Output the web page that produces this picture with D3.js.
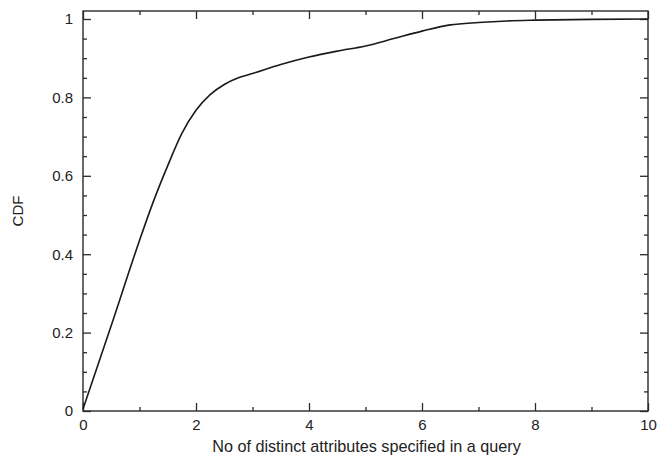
<!DOCTYPE html>
<html>
<head>
<meta charset="utf-8">
<script src="https://cdn.jsdelivr.net/npm/d3@7"></script>
<style>
  html, body { margin: 0; padding: 0; background: #fff; }
  svg { display: block; }
  text { font-family: "Liberation Sans", Arial, Helvetica, sans-serif; fill: #222; }
</style>
</head>
<body>
<div id="chart"></div>
<script>
// Number of distinct attributes in a query, and the cumulative fraction of queries
const attrCounts = [0, 0.5, 1.0, 1.25, 1.5, 1.75, 2.0, 2.25, 2.5, 2.75, 3.0, 3.5, 4.0, 4.5, 5.0, 5.5, 6.0, 6.5, 7.0, 7.5, 8.0, 9.0, 10.0];
const cdfValues  = [0.005, 0.218, 0.435, 0.536, 0.626, 0.708, 0.767, 0.807, 0.833, 0.850, 0.861, 0.884, 0.903, 0.918, 0.931, 0.950, 0.969, 0.985, 0.991, 0.995, 0.997, 0.999, 1.0];

const xMajorTicks = [0, 2, 4, 6, 8, 10];
const xMinorTicks = [1, 3, 5, 7, 9];
const yMajorTicks = [0, 0.2, 0.4, 0.6, 0.8, 1];
const yMinorTicks = [0.05, 0.1, 0.15, 0.25, 0.3, 0.35, 0.45, 0.5, 0.55, 0.65, 0.7, 0.75, 0.85, 0.9, 0.95];
const yTickLabels = ["0", "0.2", "0.4", "0.6", "0.8", "1"];

const xLabel = "No of distinct attributes specified in a query";
const yLabel = "CDF";

const W = 659, H = 459;
const plotL = 83, plotR = 648, plotT = 11, plotB = 411;

const svg = d3.select("#chart").append("svg").attr("width", W).attr("height", H);

const x = d3.scaleLinear().domain([0, 10]).range([plotL, plotR]);
const y = d3.scaleLinear().domain([0, 1.0204]).range([plotB, plotT]);

const ink = "#2a2a2a";
const major = 8, minor = 4;

// Axes with inward ticks on all four sides
function addAxis(axisFn, scale, ticks, size, transform, labels) {
  const g = svg.append("g")
    .attr("transform", transform)
    .call(axisFn(scale).tickValues(ticks).tickSize(size).tickSizeOuter(0)
      .tickFormat(labels ? (d, i) => labels[i] : () => ""));
  g.select(".domain").remove();
  g.selectAll(".tick line").attr("stroke", ink).attr("stroke-width", 1.3);
  g.selectAll(".tick text").attr("font-size", "15px").attr("fill", ink);
  return g;
}

// bottom
const gxb = addAxis(d3.axisBottom, x, xMajorTicks, -major, `translate(0,${plotB})`, xMajorTicks.map(String));
gxb.selectAll(".tick text").attr("y", 8).attr("dy", "0.71em");
addAxis(d3.axisBottom, x, xMinorTicks, -minor, `translate(0,${plotB})`, null);
// top
addAxis(d3.axisTop, x, xMajorTicks, -major, `translate(0,${plotT})`, null);
addAxis(d3.axisTop, x, xMinorTicks, -minor, `translate(0,${plotT})`, null);
// left
const gyl = addAxis(d3.axisLeft, y, yMajorTicks, -major, `translate(${plotL},0)`, yTickLabels);
gyl.selectAll(".tick text").attr("x", -10);
addAxis(d3.axisLeft, y, yMinorTicks, -minor, `translate(${plotL},0)`, null);
// right
addAxis(d3.axisRight, y, yMajorTicks, -major, `translate(${plotR},0)`, null);
addAxis(d3.axisRight, y, yMinorTicks, -minor, `translate(${plotR},0)`, null);

// plot frame
svg.append("rect")
  .attr("x", plotL).attr("y", plotT)
  .attr("width", plotR - plotL).attr("height", plotB - plotT)
  .attr("fill", "none").attr("stroke", ink).attr("stroke-width", 1.4);

// CDF curve
const pts = attrCounts.map((a, i) => [a, cdfValues[i]]);
const line = d3.line().x(d => x(d[0])).y(d => y(d[1])).curve(d3.curveMonotoneX);
svg.append("path")
  .datum(pts)
  .attr("d", line)
  .attr("fill", "none")
  .attr("stroke", "#1a1a1a")
  .attr("stroke-width", 1.6);

// axis titles
svg.append("text")
  .attr("x", (plotL + plotR) / 2 + 1).attr("y", 452)
  .attr("text-anchor", "middle").attr("font-size", "16.2px")
  .text(xLabel);

svg.append("text")
  .attr("transform", `translate(23,${(plotT + plotB) / 2}) rotate(-90)`)
  .attr("text-anchor", "middle").attr("font-size", "15px")
  .text(yLabel);
</script>
</body>
</html>
